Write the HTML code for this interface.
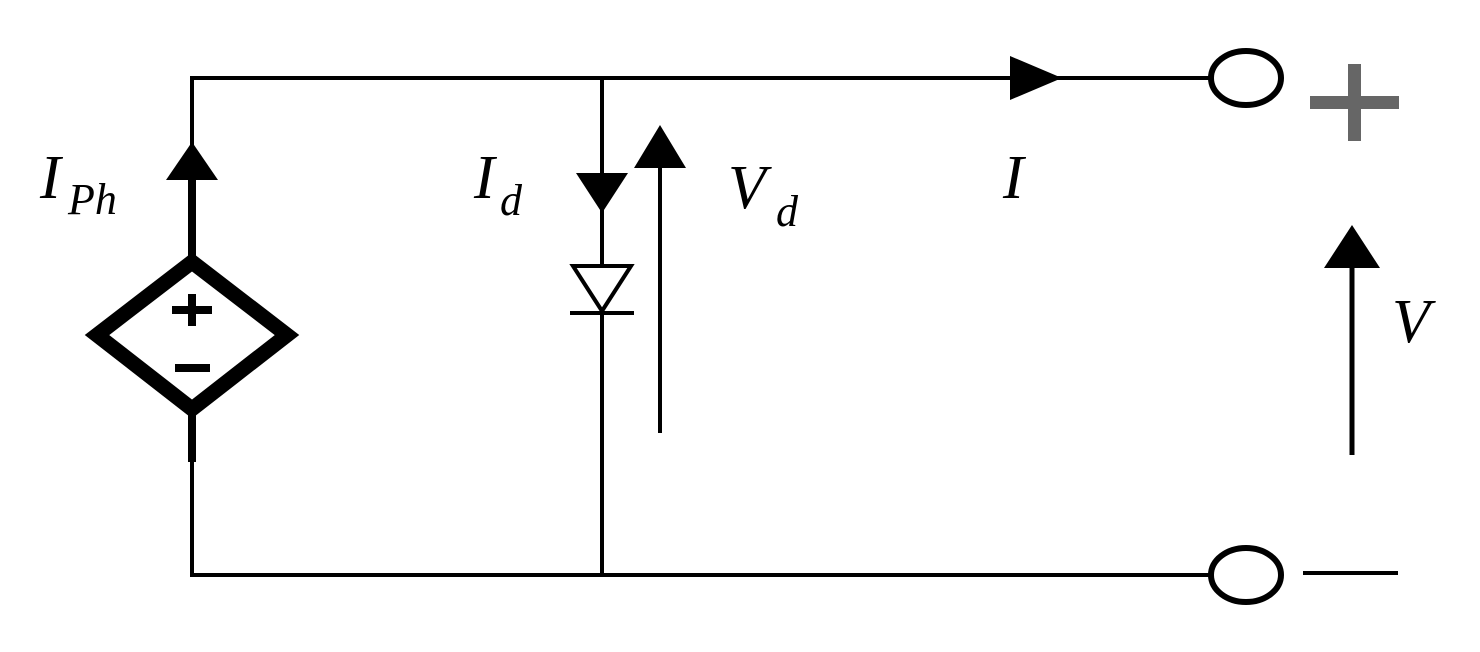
<!DOCTYPE html>
<html><head><style>html,body{margin:0;padding:0;background:#fff}svg{display:block}.t{font-family:"Liberation Serif","Times New Roman",serif;font-style:italic}</style></head>
<body>
<svg width="1480" height="652" viewBox="0 0 1480 652" xmlns="http://www.w3.org/2000/svg">
<g stroke="#000" fill="none" stroke-linecap="butt">
<polyline points="192,145 192,78 1210,78" stroke-width="4"/>
<line x1="192" y1="178" x2="192" y2="258" stroke-width="8"/>
<line x1="192" y1="414" x2="192" y2="462" stroke-width="8"/>
<line x1="192" y1="460" x2="192" y2="577" stroke-width="4"/>
<polyline points="190,575 1210,575" stroke-width="4"/>
<line x1="602" y1="78" x2="602" y2="575" stroke-width="4"/>
<polygon points="192,262 287,335 192,409 97,335" stroke-width="15" stroke-linejoin="miter"/>
<polygon points="573,266 631,266 602,311" stroke-width="4" fill="#fff"/>
<line x1="570" y1="313" x2="634" y2="313" stroke-width="4"/>
<line x1="660" y1="165" x2="660" y2="433" stroke-width="4"/>
<line x1="1352" y1="265" x2="1352" y2="455" stroke-width="5"/>
<ellipse cx="1246" cy="78" rx="35" ry="27" stroke-width="6" fill="#fff"/>
<ellipse cx="1246" cy="575" rx="35" ry="27" stroke-width="6" fill="#fff"/>
<line x1="1303" y1="573" x2="1398" y2="573" stroke-width="4"/>
</g>
<g fill="#000">
<polygon points="192,142 218,180 166,180"/>
<polygon points="576,173 628,173 602,213"/>
<polygon points="660,125 686,168 634,168"/>
<polygon points="1010,56 1062,78 1010,100"/>
<polygon points="1352,225 1380,268 1324,268"/>
<rect x="172" y="306" width="40" height="8"/>
<rect x="188" y="294" width="8" height="32"/>
<rect x="175" y="364" width="35" height="8"/>
</g>
<g fill="#666">
<rect x="1310" y="96" width="89" height="13"/>
<rect x="1348" y="64" width="13" height="77"/>
</g>
<g class="t" fill="#000">
<text x="40" y="198" font-size="62">I</text>
<text x="68" y="214" font-size="44">Ph</text>
<text x="474" y="198" font-size="62">I</text>
<text x="500" y="215" font-size="44">d</text>
<text x="728" y="208" font-size="62">V</text>
<text x="776" y="226" font-size="44">d</text>
<text x="1003" y="198" font-size="62">I</text>
<text x="1392" y="342" font-size="62">V</text>
</g>
</svg>
</body></html>
